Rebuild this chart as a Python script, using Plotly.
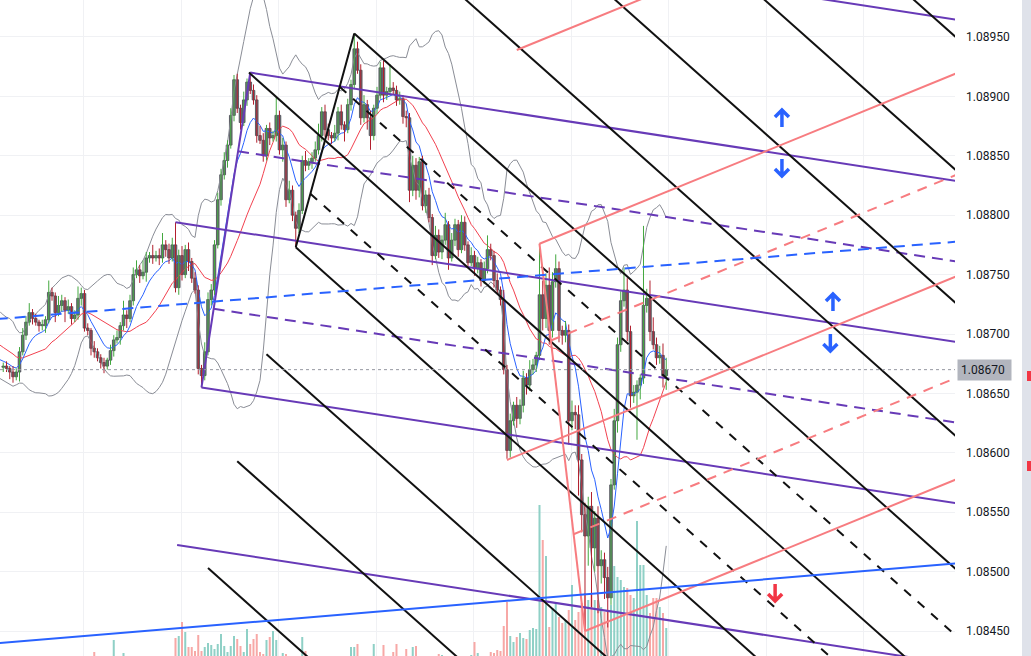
import numpy as np
import pandas as pd
import plotly.graph_objects as go

# ---------------- data (prices in points of 1e-5 above 1.08000) ----------------
BASE = 1.08
PT = 1e-5

warmup_close = [712, 706, 700, 708, 715, 704, 698, 690, 695, 700,
                688, 680, 684, 690, 676, 672, 680, 675, 668, 672]

close_pts = [
    673, 671, 668, 664, 668, 685, 699, 710, 718, 713,
    710, 707, 707, 712, 735, 732, 718, 724, 728, 720,
    723, 713, 716, 730, 734, 705, 703, 688, 685, 680,
    676, 673, 678, 686, 695, 697, 707, 716, 713, 728,
    750, 754, 749, 752, 764, 766, 764, 766, 764, 775,
    771, 764, 775, 739, 766, 750, 771, 761, 747, 737,
    671, 665, 685, 729, 737, 775, 813, 834, 846, 859,
    884, 914, 890, 878, 897, 912, 905, 897, 867, 863,
    850, 873, 865, 867, 884, 855, 859, 813, 821, 800,
    789, 804, 846, 842, 845, 848, 855, 867, 887, 872,
    867, 865, 869, 887, 876, 872, 893, 910, 940, 922,
    882, 893, 882, 867, 890, 901, 924, 901, 904, 907,
    905, 897, 898, 883, 882, 821, 842, 821, 845, 808,
    817, 798, 766, 783, 769, 779, 792, 764, 779, 792,
    771, 794, 775, 760, 766, 755, 760, 745, 755, 771,
    766, 745, 737, 729, 670, 602, 627, 640, 629, 640,
    663, 657, 670, 674, 682, 733, 713, 741, 703, 744,
    755, 703, 699, 703, 627, 634, 632, 594, 548, 530,
    555, 520, 545, 505, 510, 495, 478, 573, 627, 691,
    728, 737, 702, 648, 651, 657, 663, 724, 730, 702, 691, 680, 682, 665, 670,
]

wick_up = [
    3, 4, 2, 5, 3, 4, 6, 5, 8, 3,
    4, 2, 5, 3, 10, 4, 3, 8, 5, 3,
    6, 3, 4, 10, 5, 3, 4, 2, 6, 3,
    3, 4, 2, 5, 4, 6, 3, 12, 4, 5,
    6, 8, 4, 10, 5, 3, 9, 4, 6, 10,
    4, 5, 6, 19, 5, 8, 4, 6, 3, 5,
    4, 3, 8, 6, 5, 4, 6, 5, 7, 4,
    6, 4, 5, 3, 7, 3, 8, 5, 4, 8,
    6, 3, 5, 4, 15, 4, 6, 3, 8, 4,
    3, 6, 4, 8, 3, 5, 7, 10, 4, 6,
    5, 3, 7, 4, 6, 3, 5, 4, 13, 6,
    5, 8, 4, 6, 3, 7, 5, 6, 4, 20,
    5, 4, 6, 3, 5, 4, 8, 6, 4, 5,
    4, 6, 3, 8, 5, 4, 10, 3, 6, 5,
    4, 6, 5, 3, 7, 4, 5, 3, 6, 12,
    5, 4, 6, 3, 8, 4, 6, 3, 7, 5,
    6, 4, 8, 5, 3, 43, 12, 10, 15, 8,
    12, 6, 4, 8, 5, 10, 6, 8, 5, 10,
    8, 12, 6, 10, 8, 6, 9, 5, 10, 6,
    8, 19, 10, 5, 6, 4, 3, 67, 8, 15, 12, 6, 8, 10, 10,
]

wick_dn = [
    4, 3, 6, 5, 3, 8, 3, 4, 3, 5,
    3, 5, 4, 6, 3, 4, 8, 3, 5, 10,
    3, 5, 3, 4, 6, 3, 4, 6, 5, 3,
    5, 6, 3, 4, 5, 3, 6, 4, 8, 3,
    4, 3, 6, 3, 8, 4, 5, 3, 6, 4,
    6, 5, 3, 4, 6, 5, 3, 8, 4, 3,
    5, 10, 4, 3, 5, 4, 3, 5, 4, 6,
    3, 5, 4, 6, 3, 5, 3, 4, 6, 3,
    5, 4, 6, 3, 5, 4, 10, 6, 3, 5,
    16, 4, 3, 5, 4, 6, 3, 4, 5, 6,
    4, 5, 3, 6, 4, 10, 3, 5, 4, 3,
    6, 4, 10, 12, 4, 5, 3, 6, 4, 3,
    3, 5, 4, 6, 8, 10, 5, 8, 6, 4,
    6, 4, 8, 3, 5, 6, 4, 10, 3, 5,
    6, 3, 5, 4, 3, 6, 4, 5, 3, 4,
    4, 6, 3, 5, 4, 7, 6, 4, 8, 5,
    6, 8, 5, 4, 6, 4, 10, 8, 12, 6,
    5, 10, 8, 6, 20, 8, 12, 30, 15, 80,
    25, 50, 20, 40, 15, 18, 25, 6, 4, 10,
    6, 5, 8, 10, 6, 40, 12, 5, 6, 8, 4, 6, 5, 10, 12,
]

volume = [
    0, 0, 0, 0, 0, 0, 0, 0, 0, 0,
    0, 0, 0, 0, 0, 0, 0, 0, 0, 0,
    0, 0, 0, 0, 0, 0, 0, 0, 4, 0,
    0, 0, 0, 0, 16, 0, 0, 3, 0, 0,
    0, 0, 0, 0, 0, 0, 0, 0, 0, 0,
    0, 0, 0, 18, 20, 34, 24, 9, 9, 5,
    21, 5, 9, 13, 11, 7, 12, 22, 10, 4,
    10, 20, 17, 10, 4, 27, 12, 17, 22, 4,
    2, 16, 19, 25, 16, 0, 3, 2, 0, 0,
    0, 0, 19, 5, 0, 0, 0, 0, 0, 0,
    0, 0, 0, 0, 0, 0, 0, 9, 9, 12,
    0, 0, 0, 0, 12, 0, 0, 11, 0, 0,
    4, 12, 0, 0, 7, 0, 9, 10, 0, 0,
    0, 0, 0, 0, 2, 1, 0, 0, 0, 0,
    0, 0, 0, 0, 1, 14, 3, 0, 0, 0,
    4, 3, 6, 5, 30, 54, 20, 14, 19, 23,
    18, 17, 26, 28, 27, 151, 116, 100, 29, 48,
    53, 39, 33, 36, 46, 71, 36, 44, 53, 63,
    56, 61, 56, 56, 49, 44, 44, 51, 90, 79,
    76, 69, 68, 61, 58, 135, 91, 91, 61, 43, 58, 58, 49, 43, 28,
]

price_ticks = [1.0845, 1.0850, 1.0855, 1.0860, 1.0865, 1.0870,
               1.0875, 1.0880, 1.0885, 1.0890, 1.0895]
last_price = 1.08670

# drawing anchors: (bar index, price)
black_pf = {"A": (75.6, 1.08920), "B": (108, 1.08953), "C": (90, 1.08773)}
purple_pf = {"A": (53, 1.08794), "B": (76, 1.08920), "C": (61, 1.08655)}
red_pf = {"A": (155, 1.08594), "B": (165, 1.08776), "C": (179, 1.08450)}
blue_solid = [(0, 1.084401), (200, 1.084857)]
blue_dashed = [(0, 1.087130), (200, 1.087571)]
arrow_marks = [  # (bar index, price, direction, color)
    (239.6, 1.088818, "up", "#2962ff"),
    (239.6, 1.088397, "down", "#2962ff"),
    (255.3, 1.087269, "up", "#2962ff"),
    (254.5, 1.086924, "down", "#2962ff"),
    (237.5, 1.084820, "down", "#f23645"),
]

# ---------------- derived series ----------------
nW = len(warmup_close)
all_close = np.array(warmup_close + close_pts, dtype=float)
x_all = np.arange(-nW, len(close_pts))
n = len(close_pts)
x = np.arange(n)
c = np.array(close_pts, dtype=float)
o = all_close[nW - 1:nW - 1 + n]
hi = np.maximum(o, c) + np.array(wick_up)
lo = np.minimum(o, c) - np.array(wick_dn)
up = c >= o

to_price = lambda p: BASE + np.asarray(p) * PT

s = pd.Series(to_price(all_close))
sma20 = s.rolling(20, min_periods=1).mean()
std20 = s.rolling(20, min_periods=1).std(ddof=0)
bb_up = sma20 + 2 * std20
bb_dn = sma20 - 2 * std20
ema9 = s.ewm(span=9, adjust=False).mean()

fig = go.Figure()

# volume (bottom layer)
vol_colors = ["#8fd0c6" if u else "#f7a8a6" for u in up]
fig.add_trace(go.Bar(x=x, y=volume, marker=dict(color=vol_colors, line=dict(width=0)),
                     width=0.62, yaxis="y", hoverinfo="skip", showlegend=False))

# indicators
vis = x_all >= -2
for ser in (bb_up, bb_dn):
    fig.add_trace(go.Scatter(x=x_all[vis], y=ser[vis], mode="lines",
                             line=dict(color="#8a8d96", width=1), yaxis="y2",
                             hoverinfo="skip", showlegend=False))
fig.add_trace(go.Scatter(x=x_all[vis], y=sma20[vis], mode="lines",
                         line=dict(color="#f2414f", width=1), yaxis="y2",
                         hoverinfo="skip", showlegend=False))
fig.add_trace(go.Scatter(x=x_all[vis], y=ema9[vis], mode="lines",
                         line=dict(color="#2962ff", width=1), yaxis="y2",
                         hoverinfo="skip", showlegend=False))

# wicks
for flag, col in ((True, "#43a83f"), (False, "#b2202e")):
    wx, wy = [], []
    for i in range(n):
        if up[i] == flag:
            wx += [x[i], x[i], None]
            wy += [to_price(lo[i]), to_price(hi[i]), None]
    fig.add_trace(go.Scatter(x=wx, y=wy, mode="lines", line=dict(color=col, width=1),
                             yaxis="y2", hoverinfo="skip", showlegend=False))

# bodies
body_base = to_price(np.minimum(o, c))
body_h = np.maximum(np.abs(c - o), 0.9) * PT
fig.add_trace(go.Bar(x=x, y=body_h, base=body_base, width=0.8, yaxis="y2",
                     marker=dict(color="#6e7079", line=dict(color="#45474f", width=0.8)),
                     hoverinfo="skip", showlegend=False))

# ---------------- drawings ----------------
X_FAR = 330


def add_line(xs, ys, color, dash=None, width=2):
    fig.add_trace(go.Scatter(x=xs, y=ys, mode="lines", yaxis="y2",
                             line=dict(color=color, width=width, dash=dash),
                             hoverinfo="skip", showlegend=False))


def pitchfork(pf, solid_levels, dash_levels, color, dash_pat):
    Ax, Ay = pf["A"]
    Bx, By = pf["B"]
    Cx, Cy = pf["C"]
    Mx, My = (Bx + Cx) / 2, (By + Cy) / 2
    dx, dy = Mx - Ax, My - Ay

    def ray(Sx, Sy, dash=None):
        k = (X_FAR - Sx) / dx
        add_line([Sx, Sx + k * dx], [Sy, Sy + k * dy], color, dash)

    ray(Ax, Ay)                                   # median
    add_line([Bx, Cx], [By, Cy], color)           # handle
    for t in solid_levels:
        ray(Bx + t * (Cx - Bx), By + t * (Cy - By))
    for t in dash_levels:
        ray(Bx + t * (Cx - Bx), By + t * (Cy - By), dash_pat)


pitchfork(purple_pf, [-0.5, 0, 1, 1.5], [0.25, 0.75], "#673ab7", "11px,7px")
pitchfork(black_pf, [-2, -1.5, -1, -0.5, 0, 1, 1.5, 2, 2.5], [0.25, 0.75], "#111111", "9px,9px")
pitchfork(red_pf, [-0.5, 0, 1], [0.25, 0.75], "#f77c80", "10px,8px")


def ext_line(pts, color, dash=None):
    (x0, y0), (x1, y1) = pts
    sl = (y1 - y0) / (x1 - x0)
    add_line([-2, X_FAR], [y0 + sl * (-2 - x0), y0 + sl * (X_FAR - x0)], color, dash)


ext_line(blue_dashed, "#2962ff", "11px,7px")
ext_line(blue_solid, "#2962ff")

# ---------------- shapes / annotations ----------------
shapes = [
    dict(type="line", xref="paper", x0=0, x1=1, yref="y2", y0=last_price, y1=last_price,
         line=dict(color="#9598a1", width=1, dash="dot"), layer="above"),
    dict(type="rect", xref="paper", x0=1022 / 955, x1=1.1, yref="paper", y0=0, y1=1,
         fillcolor="#dfe2ea", line=dict(width=0), layer="above"),
    dict(type="rect", xref="paper", x0=1027 / 955, x1=1.1, yref="paper",
         y0=1 - 381 / 656, y1=1 - 371 / 656, fillcolor="#f23645", line=dict(width=0), layer="above"),
    dict(type="rect", xref="paper", x0=1027 / 955, x1=1.1, yref="paper",
         y0=1 - 471 / 656, y1=1 - 461 / 656, fillcolor="#f23645", line=dict(width=0), layer="above"),
]
for ax_, ay_, d, col in arrow_marks:
    if d == "up":
        path = "M 0 -9 L 0 8 M -7 1 L 0 8 L 7 1"
    else:
        path = "M 0 9 L 0 -8 M -7 -1 L 0 -8 L 7 -1"
    shapes.append(dict(type="path", path=path, xref="x", yref="y2",
                       xsizemode="pixel", ysizemode="pixel", xanchor=ax_, yanchor=ay_,
                       line=dict(color=col, width=3.5), layer="above"))

fig.update_layout(
    width=1031, height=656,
    margin=dict(l=0, r=76, t=0, b=0),
    paper_bgcolor="white", plot_bgcolor="white",
    barmode="overlay", showlegend=False,
    font=dict(family="Roboto", size=12, color="#131722"),
    xaxis=dict(range=[-1, 292.85], showgrid=True, gridcolor="#f0f1f4", gridwidth=1,
               tick0=24.8, dtick=30, showticklabels=False, zeroline=False,
               showline=False, ticks=""),
    yaxis=dict(range=[0, 656], visible=False, showgrid=False),
    yaxis2=dict(range=[1.084290, 1.089811], overlaying="y", side="right", anchor="x",
                tickvals=price_ticks, ticktext=["%.5f" % v for v in price_ticks],
                showgrid=True, gridcolor="#f0f1f4", zeroline=False, showline=False,
                ticks="", ticklabelstandoff=10,
                tickfont=dict(family="Roboto", size=12, color="#131722")),
    shapes=shapes,
    annotations=[dict(xref="paper", x=957 / 955, yref="y2", y=last_price, xanchor="left",
                      yanchor="middle", text="1.08670 ", showarrow=False,
                      bgcolor="#b2b5be", borderpad=3,
                      font=dict(family="Roboto", size=12, color="#131722"))],
)

fig.write_html("out.html", config={"displayModeBar": False},
               post_script="document.body.style.margin='0';document.body.style.overflow='hidden';")
